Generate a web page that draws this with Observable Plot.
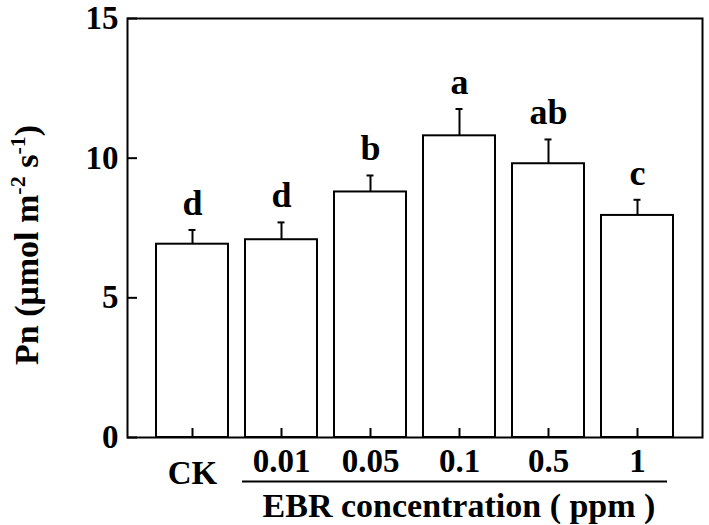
<!DOCTYPE html>
<html>
<head>
<meta charset="utf-8">
<script src="https://cdn.jsdelivr.net/npm/d3@7"></script>
<script src="https://cdn.jsdelivr.net/npm/@observablehq/plot@0.6"></script>
<style>
  body { margin: 0; background: #fff; }
  #chart svg { font-family: "Liberation Serif", "Times New Roman", serif; }
</style>
</head>
<body>
<div id="chart"></div>
<script>
const categories = ["CK", "0.01", "0.05", "0.1", "0.5", "1"];
const means = [6.92, 7.08, 8.79, 10.80, 9.80, 7.95];
const errors = [0.51, 0.62, 0.59, 0.96, 0.87, 0.56];
const letters = ["d", "d", "b", "a", "ab", "c"];
const yTicks = [0, 5, 10, 15];
const yTitle = ["Pn (μmol m", "-2", " s", "-1", ")"];
const xTitle = "EBR concentration ( ppm )";

const data = categories.map((c, i) => ({cat: c, mean: means[i], se: errors[i], top: means[i] + errors[i], letter: letters[i]}));

const W = 709, H = 525, mL = 127, mR = 7, mT = 18, mB = 88;
const frameW = W - mL - mR, frameH = H - mT - mB;
const font = "Liberation Serif, Times New Roman, serif";
const plot = Plot.plot({
  width: W,
  height: H,
  marginLeft: mL,
  marginRight: mR,
  marginTop: mT,
  marginBottom: mB,
  style: {fontFamily: font, background: "#fff", color: "#000"},
  x: {domain: categories, paddingInner: 0.187, paddingOuter: 0.29, label: null},
  y: {domain: [0, 15], label: null},
  marks: [
    Plot.barY(data, {x: "cat", y: "mean", fill: "white", stroke: "black", strokeWidth: 2}),
    Plot.ruleX(data, {x: "cat", y1: "mean", y2: "top", stroke: "black", strokeWidth: 2}),
    Plot.tickY(data, {x: "cat", y: "top", stroke: "black", strokeWidth: 2, insetLeft: 32.5, insetRight: 32.5}),
    Plot.text(data, {x: "cat", y: "top", text: "letter", dy: -15, lineAnchor: "bottom", fontSize: 36, fontWeight: "bold", fill: "black"}),
    // inward ticks
    Plot.ruleY(yTicks, {y: d => d, stroke: "black", strokeWidth: 2, insetRight: frameW - 10}),
    Plot.ruleX(categories, {x: d => d, stroke: "black", strokeWidth: 2, insetTop: frameH - 9}),
    Plot.axisY(yTicks, {anchor: "left", tickSize: 0, tickPadding: 9, fontSize: 33, fontWeight: "bold", label: null}),
    Plot.axisX(categories.slice(1), {anchor: "bottom", tickSize: 0, tickPadding: 11, fontSize: 33, fontWeight: "bold", label: null}),
    Plot.axisX(["CK"], {anchor: "bottom", tickSize: 0, tickPadding: 11, dy: 12, fontSize: 33, fontWeight: "bold", label: null}),
    Plot.frame({stroke: "black", strokeWidth: 2})
  ]
});

document.getElementById("chart").appendChild(plot);

const svg = d3.select(plot);
const xs = plot.scale("x");
const xA = xs.apply("0.01");
const xB = xs.apply("1") + xs.bandwidth;
// group line
svg.append("line")
  .attr("x1", xA - 3).attr("x2", xB - 6)
  .attr("y1", 481.5).attr("y2", 481.5)
  .attr("stroke", "black").attr("stroke-width", 2);
// x title
svg.append("text")
  .attr("x", (xs.apply("0.01") + xs.apply("1")) / 2 + xs.bandwidth / 2)
  .attr("y", 517)
  .attr("text-anchor", "middle")
  .attr("font-size", 34).attr("font-weight", "bold").attr("fill", "black")
  .text(xTitle);
// y title with superscripts
const yt = svg.append("text")
  .attr("transform", "translate(38,245) rotate(-90)")
  .attr("text-anchor", "middle")
  .attr("font-size", 34).attr("font-weight", "bold").attr("fill", "black");
yTitle.forEach((s, i) => {
  const sup = i === 1 || i === 3;
  const t = yt.append("tspan").text(s);
  if (sup) t.attr("font-size", 22).attr("dy", -13);
  else if (i > 0) t.attr("dy", 13);
});
</script>
</body>
</html>
